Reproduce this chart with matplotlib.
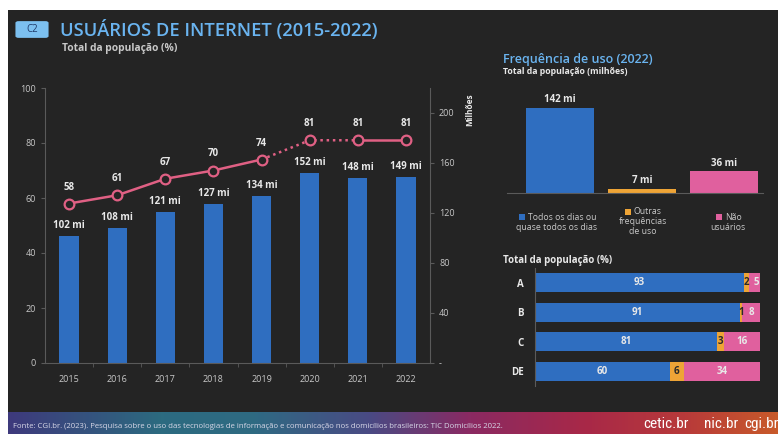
import matplotlib
matplotlib.use("Agg")
import matplotlib.pyplot as plt
import numpy as np
from matplotlib.patches import Rectangle, FancyBboxPatch
from matplotlib.colors import LinearSegmentedColormap

# data
years = ["2015", "2016", "2017", "2018", "2019", "2020", "2021", "2022"]
users_pct = [58, 61, 67, 70, 74, 81, 81, 81]
users_mi = [102, 108, 121, 127, 134, 152, 148, 149]

freq_labels = ["Todos os dias ou\nquase todos os dias", "Outras\nfrequências\nde uso", "Não\nusuários"]
freq_mi = [142, 7, 36]

classes = ["A", "B", "C", "DE"]
daily_pct = [93, 91, 81, 60]
other_pct = [2, 1, 3, 6]
non_pct = [5, 8, 16, 34]

# colours
BG = "#242424"
BLUE = "#2f6ec0"
ORANGE = "#eea436"
PINK = "#e0609e"
LINE = "#e06084"
AXIS = "#5a5a5a"
TXT = "#e8e8e8"
TICK = "#c8c8c8"
TITLE = "#6ab4f0"

plt.rcParams['font.family'] = ['Open Sans', 'DejaVu Sans']

W, H = 778, 434
fig = plt.figure(figsize=(W / 100, H / 100), dpi=100)
fig.patch.set_facecolor("white")


def fx(px):
    return px / W


def fy(py):
    return 1 - py / H


# dark panel
fig.add_artist(Rectangle((fx(8), fy(412)), 1 - fx(8), fy(10) - fy(412),
                         transform=fig.transFigure, facecolor=BG, edgecolor="none", zorder=0))

# footer gradient
fax = fig.add_axes([fx(8), 0, 1 - fx(8), 22 / H])
cmap = LinearSegmentedColormap.from_list("foot", [
    (0.0, "#3e3a7c"), (0.2, "#2c6b80"), (0.32, "#2f6a82"), (0.47, "#4a4a84"),
    (0.6, "#8a2a62"), (0.75, "#a82848"), (0.88, "#b83a3a"), (1.0, "#c85a2a")])
fax.imshow(np.linspace(0, 1, 256).reshape(1, -1), aspect="auto", cmap=cmap, extent=[0, 1, 0, 1])
fax.set_axis_off()
fig.text(fx(13), fy(427), "Fonte: CGI.br. (2023). Pesquisa sobre o uso das tecnologias de informação e comunicação "
         "nos domicílios brasileiros: TIC Domicílios 2022.", fontsize=5.6, color="#d8d8e8", va="center")
foot_fam = ['Roboto Condensed', 'DejaVu Sans Condensed', 'Liberation Sans Narrow', 'Roboto']
for px_, word in zip([643, 704, 744], ["cetic.br", "nic.br", "cgi.br"]):
    fig.text(fx(px_), fy(424), word, fontsize=11, color="white", va="center", family=foot_fam)

# title
fig.add_artist(FancyBboxPatch((fx(17), fy(37)), fx(30), fy(22) - fy(37),
                              boxstyle="round,pad=0.002,rounding_size=0.004",
                              transform=fig.transFigure, facecolor="#7cc0f0", edgecolor="none"))
fig.text(fx(32), fy(29.5), "C2", fontsize=7, color="#1e3a6a", ha="center", va="center")
fig.text(fx(60), fy(30), "USUÁRIOS DE INTERNET (2015-2022)", fontsize=13.2, color=TITLE, va="center",
         weight="semibold")
fig.text(fx(62), fy(48), "Total da população (%)", fontsize=7.4, color=TICK, va="center", weight="bold")

# ---- main chart
ax = fig.add_axes([fx(45), fy(363), fx(430) - fx(45), fy(88) - fy(363)])
x = np.arange(len(years))
ax.set_xlim(-0.5, 7.5)
ax.set_ylim(0, 100)
ax2 = ax.twinx()
ax2.set_ylim(0, 220)
ax.set_zorder(ax2.get_zorder() + 1)
ax.patch.set_visible(False)
ax2.patch.set_visible(False)

ax2.bar(x, users_mi, width=0.4, color=BLUE)
for xi, v in zip(x, users_mi):
    ax2.text(xi, v + 4, f"{v} mi", ha="center", va="bottom", fontsize=7, color=TXT, weight="bold")

ax.plot(x[:5], users_pct[:5], color=LINE, lw=1.8)
ax.plot(x[4:7], users_pct[4:7], color=LINE, lw=1.8, ls=(0, (1, 1.5)))
ax.plot(x[6:], users_pct[6:], color=LINE, lw=1.8)
ax.plot(x, users_pct, ls="none", marker="o", ms=7, mfc=BG, mec=LINE, mew=1.6)
for xi, v in zip(x, users_pct):
    ax.text(xi, v + 4, str(v), ha="center", va="bottom", fontsize=7, color=TXT, weight="bold")

for a in (ax, ax2):
    for s in a.spines.values():
        s.set_visible(False)
ax.spines["left"].set_visible(True)
ax.spines["left"].set_color(AXIS)
ax.spines["bottom"].set_visible(True)
ax.spines["bottom"].set_color(AXIS)
ax2.spines["right"].set_visible(True)
ax2.spines["right"].set_color(AXIS)

ax.set_yticks([0, 20, 40, 60, 80, 100])
ax.tick_params(axis="y", colors=AXIS, labelcolor=TICK, labelsize=6.5, length=3)
ax.set_xticks(x)
ax.set_xticklabels(years)
ax.set_xticks(x[:-1] + 0.5, minor=True)
ax.tick_params(axis="x", which="major", length=0, labelcolor=TICK, labelsize=6.5, pad=9)
ax.tick_params(axis="x", which="minor", length=3, color=AXIS)
ax2.set_yticks([0, 40, 80, 120, 160, 200])
ax2.set_yticklabels(["-", "40", "80", "120", "160", "200"])
ax2.tick_params(axis="y", colors=AXIS, labelcolor=TICK, labelsize=6.5, length=3)
fig.text(fx(470), fy(110), "Milhões", rotation=90, fontsize=6, color=TXT, weight="bold",
         ha="center", va="center")

# ---- frequency of use
fig.text(fx(503), fy(59), "Frequência de uso (2022)", fontsize=9, color=TITLE, va="center", weight="semibold")
fig.text(fx(503), fy(72), "Total da população (milhões)", fontsize=6.3, color=TXT, va="center", weight="bold")

bx = fig.add_axes([fx(507), fy(193), fx(763) - fx(507), 90 / H])
bx.patch.set_visible(False)
fpos = np.arange(len(freq_mi))
fcols = [BLUE, ORANGE, PINK]
bx.bar(fpos, freq_mi, width=0.83, color=fcols)
for xi, v in zip(fpos, freq_mi):
    bx.text(xi, v + 4, f"{v} mi", ha="center", va="bottom", fontsize=7, color=TXT, weight="bold")
bx.set_xlim(-0.646, 2.476)
bx.set_ylim(0, 150)
for s in bx.spines.values():
    s.set_visible(False)
bx.spines["bottom"].set_visible(True)
bx.spines["bottom"].set_color(AXIS)
bx.set_xticks([])
bx.set_yticks([])

# legend under bars
renderer = fig.canvas.get_renderer()
leg_x = [557, 643, 728]
for lx, lab, c in zip(leg_x, freq_labels, fcols):
    lines = lab.split("\n")
    top = 222 - (len(lines) - 1) * 5
    t = fig.text(fx(lx + 5), fy(top), lines[0], fontsize=6.3, color=TICK, ha="center", va="center")
    bb = t.get_window_extent(renderer)
    sq = 6
    fig.add_artist(Rectangle(((bb.x0 - 3 - sq) / W, fy(top) - sq / 2 / H), sq / W, sq / H,
                             transform=fig.transFigure, facecolor=c, edgecolor="none"))
    for k, ln in enumerate(lines[1:], start=1):
        fig.text(fx(lx), fy(top + 10 * k), ln, fontsize=6.3, color=TICK, ha="center", va="center")

# ---- stacked by class
fig.text(fx(503), fy(260), "Total da população (%)", fontsize=7, color=TXT, va="center", weight="bold")
hx = fig.add_axes([fx(535), fy(386), fx(760) - fx(535), 118 / H])
hx.patch.set_visible(False)
y = np.arange(len(classes))
hx.barh(y, daily_pct, height=0.64, color=BLUE)
hx.barh(y, other_pct, left=daily_pct, height=0.64, color=ORANGE)
left2 = [a + b for a, b in zip(daily_pct, other_pct)]
hx.barh(y, non_pct, left=left2, height=0.64, color=PINK)
for yi, d, o, n in zip(y, daily_pct, other_pct, non_pct):
    hx.text(d / 2, yi, str(d), ha="center", va="center", fontsize=7, color=TXT, weight="bold")
    hx.text(d + o / 2, yi, str(o), ha="center", va="center", fontsize=7, color="#2a2a2a", weight="bold")
    hx.text(d + o + n / 2 + (0.8 if n < 6 else 0), yi, str(n), ha="center", va="center",
            fontsize=7, color=TXT, weight="bold")
hx.set_xlim(0, 100)
hx.set_ylim(3.5, -0.5)
for s in hx.spines.values():
    s.set_visible(False)
hx.spines["left"].set_visible(True)
hx.spines["left"].set_color(AXIS)
hx.set_xticks([])
hx.set_yticks(y)
hx.set_yticklabels(classes)
hx.tick_params(axis="y", length=0, labelcolor=TXT, labelsize=7, pad=8)
for lbl in hx.get_yticklabels():
    lbl.set_fontweight("bold")

fig.savefig("out.png", dpi=100, facecolor=fig.get_facecolor())
